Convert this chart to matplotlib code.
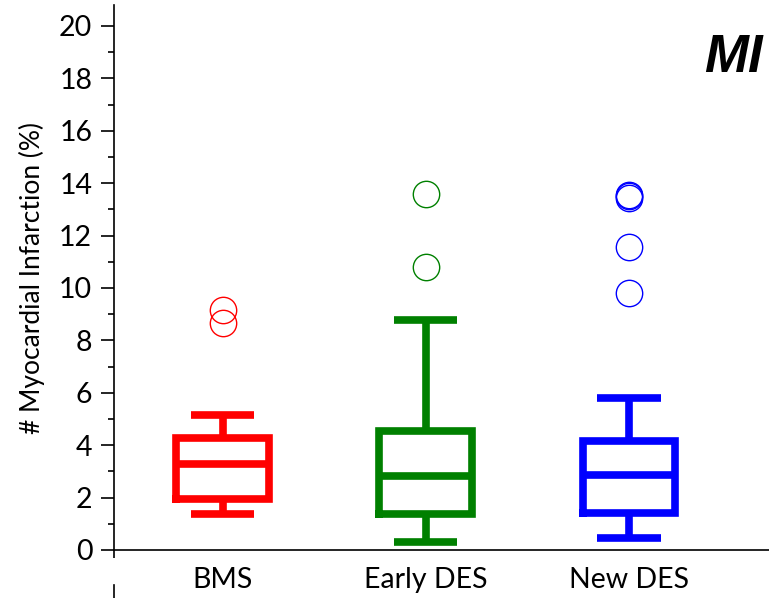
import matplotlib.pyplot as plt
from matplotlib.lines import Line2D

# groups and box summary values
groups = ['BMS', 'Early DES', 'New DES']
colors = ['#ff0000', '#008000', '#0000ff']
q1 = [1.93, 1.37, 1.42]
median = [3.27, 2.82, 2.87]
q3 = [4.28, 4.56, 4.17]
whis_lo = [1.37, 0.29, 0.44]
whis_hi = [5.17, 8.78, 5.81]
outliers = [[9.16, 8.68], [13.58, 10.79], [13.42, 13.5, 13.56, 11.58, 9.80]]

plt.rcParams['font.family'] = ['Lato', 'DejaVu Sans']

fig = plt.figure(figsize=(7.69, 5.98), dpi=100)
ax = fig.add_axes([0.148, 0.0803, 0.852, 0.9113])

pos = [1, 2, 3]
for i in range(3):
    st = dict(med=median[i], q1=q1[i], q3=q3[i], whislo=whis_lo[i],
              whishi=whis_hi[i], fliers=outliers[i], label=groups[i])
    c = colors[i]
    ax.bxp([st], positions=[pos[i]], widths=0.455, capwidths=0.312,
           boxprops=dict(color=c, linewidth=5.5, solid_joinstyle='miter'),
           whiskerprops=dict(color=c, linewidth=5.5, solid_capstyle='butt'),
           capprops=dict(color=c, linewidth=5.5, solid_capstyle='butt'),
           medianprops=dict(color=c, linewidth=5.5, solid_capstyle='butt'),
           flierprops=dict(marker='o', markersize=19, markerfacecolor='none',
                           markeredgecolor=c, markeredgewidth=1.0, linestyle='none'))

ax.set_xlim(0.465, 3.69)
ax.set_ylim(0, 20.8)
ax.set_xticks(pos)
ax.set_xticklabels(groups, fontsize=20.5)
ax.tick_params(axis='x', length=0, pad=12)
ax.set_xticks([0.465], minor=True)
ax.tick_params(axis='x', which='minor', length=6, width=1.2, direction='out')
ax.set_yticks(range(0, 21, 2))
ax.set_yticks(range(1, 21, 2), minor=True)
ax.tick_params(axis='y', which='major', length=9.5, width=1.2, labelsize=20.5, pad=6)
ax.tick_params(axis='y', which='minor', length=4.5, width=1.2)
ax.spines['top'].set_visible(False)
ax.spines['right'].set_visible(False)
for s in ['left', 'bottom']:
    ax.spines[s].set_linewidth(1.2)

ax.set_ylabel('# Myocardial Infarction (%)', fontsize=19, labelpad=10)
ax.text(0.99, 0.902, 'MI', transform=ax.transAxes, ha='right', va='center',
        fontsize=38, fontweight='bold', fontstyle='italic', family='Liberation Sans')

# short axis stub of the next panel peeking in at the bottom
fig.add_artist(Line2D([0.148, 0.148], [0.0, 0.022], color='black', linewidth=1.2))

fig.savefig('out.png', dpi=100)
